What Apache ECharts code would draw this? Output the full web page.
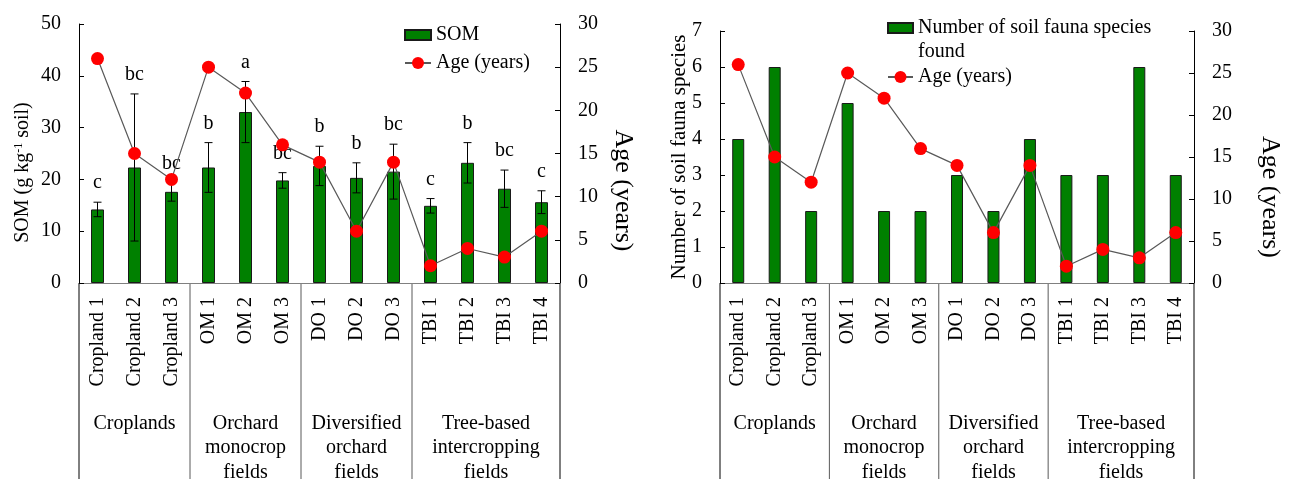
<!DOCTYPE html>
<html>
<head>
    <meta charset="utf-8">
    <title>SOM and soil fauna by field</title>
    <script src="https://cdn.jsdelivr.net/npm/echarts@6/dist/echarts.min.js"></script>
</head>
<body style="margin:0">
    <div id="main" style="width: 1292px;height:479px;"></div>
    <script>
        // field names, grouped by land use
        var categories = ['Cropland 1', 'Cropland 2', 'Cropland 3', 'OM 1', 'OM 2', 'OM 3',
            'DO 1', 'DO 2', 'DO 3', 'TBI 1', 'TBI 2', 'TBI 3', 'TBI 4'];
        var groupNames = ['Croplands', 'Orchard\nmonocrop\nfields', 'Diversified\norchard\nfields',
            'Tree-based\nintercropping\nfields'];
        var groupSizes = [3, 3, 3, 4];

        var somMean = [14.2, 22.3, 17.6, 22.3, 33.0, 19.8, 22.6, 20.3, 21.5, 14.9, 23.2, 18.2, 15.6];
        var somSd = [1.4, 14.2, 1.8, 4.8, 5.9, 1.5, 3.8, 2.9, 5.3, 1.4, 3.9, 3.6, 2.2];
        var somLetters = ['c', 'bc', 'bc', 'b', 'a', 'bc', 'b', 'b', 'bc', 'c', 'b', 'bc', 'c'];
        var ageYears = [26, 15, 12, 25, 22, 16, 14, 6, 14, 2, 4, 3, 6];
        var faunaSpecies = [4, 6, 2, 5, 2, 2, 3, 2, 4, 3, 3, 6, 3];

        var FONT = 'Liberation Serif';
        var GREEN = '#008000';

        var chart = echarts.init(document.getElementById('main'));

        function valueAxis(grid, pos, max, interval, extra) {
            var ax = {
                type: 'value', gridIndex: grid, position: pos,
                min: 0, max: max, interval: interval,
                axisLine: { show: true, lineStyle: { color: '#000', width: 1 } },
                axisTick: { show: true, inside: true, length: 5, lineStyle: { color: '#000' } },
                axisLabel: { fontFamily: FONT, fontSize: 20, color: '#000', margin: 18 },
                splitLine: { show: false },
                nameLocation: 'middle',
                nameMoveOverlap: false
            };
            return Object.assign(ax, extra || {});
        }

        function catAxis(grid) {
            return {
                type: 'category', gridIndex: grid, data: categories,
                axisLine: { lineStyle: { color: '#808080' } },
                axisTick: { show: false },
                axisLabel: { rotate: 90, fontFamily: FONT, fontSize: 20, color: '#000', margin: 14, interval: 0 }
            };
        }

        var legendText = { fontFamily: FONT, fontSize: 20, color: '#000', lineHeight: 20 };

        var option = {
            animation: false,
            grid: [
                { left: 79, right: 732, top: 24, bottom: 196, outerBoundsMode: 'none' },
                { left: 720, right: 98, top: 31, bottom: 196, outerBoundsMode: 'none' }
            ],
            xAxis: [catAxis(0), catAxis(1)],
            yAxis: [
                valueAxis(0, 'left', 50, 10, {
                    name: 'SOM (g kg{sup|-1} soil)',
                    nameGap: 46,
                    nameTextStyle: {
                        fontFamily: FONT, fontSize: 20, color: '#000', padding: [0, 38, 0, 0],
                        rich: { sup: { fontFamily: FONT, fontSize: 12, color: '#000', verticalAlign: 'top', padding: [0, 0, 8, 0] } }
                    }
                }),
                valueAxis(0, 'right', 30, 5, {
                    name: 'Age (years)', nameRotate: -90, nameGap: 50,
                    nameTextStyle: { fontFamily: FONT, fontSize: 26, color: '#000', padding: [0, 0, 0, 74] }
                }),
                valueAxis(1, 'left', 7, 1, {
                    name: 'Number of soil fauna species', nameGap: 30,
                    nameTextStyle: { fontFamily: FONT, fontSize: 21, color: '#000' }
                }),
                valueAxis(1, 'right', 30, 5, {
                    name: 'Age (years)', nameRotate: -90, nameGap: 63,
                    nameTextStyle: { fontFamily: FONT, fontSize: 26, color: '#000', padding: [0, 0, 0, 80] }
                })
            ],
            legend: [
                { data: ['SOM'], left: 404, top: 25, padding: 0, itemWidth: 26, itemHeight: 10, itemGap: 0,
                  icon: 'rect', textStyle: legendText },
                { data: ['Age (years)'], left: 404, top: 53, padding: 0, itemWidth: 26, itemHeight: 15,
                  textStyle: legendText },
                // leading blank line keeps the first text line level with the icon
                { data: ['Number of soil fauna species found'], left: 887, top: -8, padding: 0,
                  itemWidth: 25, itemHeight: 10, icon: 'rect',
                  formatter: function () { return ' \nNumber of soil fauna species\nfound'; },
                  textStyle: Object.assign({}, legendText, { lineHeight: 24 }) },
                { data: ['Age (years)'], left: 887, top: 67, padding: 0, itemWidth: 25, itemHeight: 15,
                  textStyle: legendText }
            ],
            series: [
                {
                    name: 'SOM', type: 'bar', xAxisIndex: 0, yAxisIndex: 0, data: somMean,
                    barWidth: 13, z: 2,
                    itemStyle: { color: GREEN, borderColor: '#1a1a1a', borderWidth: 1 }
                },
                {
                    name: 'SOM error', type: 'custom', xAxisIndex: 0, yAxisIndex: 0, z: 3,
                    data: somMean.map(function (m, i) { return [i, m, somSd[i]]; }),
                    renderItem: function (params, api) {
                        var x = api.value(0), m = api.value(1), sd = api.value(2);
                        var hi = api.coord([x, m + sd]);
                        var lo = api.coord([x, m - sd]);
                        var cap = 4;
                        var st = { stroke: '#000', lineWidth: 1 };
                        return {
                            type: 'group',
                            children: [
                                { type: 'line', shape: { x1: hi[0], y1: hi[1], x2: lo[0], y2: lo[1] }, style: st },
                                { type: 'line', shape: { x1: hi[0] - cap, y1: hi[1], x2: hi[0] + cap, y2: hi[1] }, style: st },
                                { type: 'line', shape: { x1: lo[0] - cap, y1: lo[1], x2: lo[0] + cap, y2: lo[1] }, style: st },
                                {
                                    type: 'text', x: hi[0], y: hi[1] - 19,
                                    style: {
                                        text: somLetters[params.dataIndex], fontFamily: FONT, fontSize: 20,
                                        fill: '#000', align: 'center', verticalAlign: 'middle'
                                    }
                                }
                            ]
                        };
                    }
                },
                {
                    name: 'Age (years)', type: 'line', xAxisIndex: 0, yAxisIndex: 1, data: ageYears, z: 4,
                    symbol: 'circle', symbolSize: 13,
                    itemStyle: { color: '#ff0000' },
                    lineStyle: { color: '#595959', width: 1.2 }
                },
                {
                    name: 'Number of soil fauna species found', type: 'bar', xAxisIndex: 1, yAxisIndex: 2,
                    data: faunaSpecies, barWidth: 12, z: 2,
                    itemStyle: { color: GREEN, borderColor: '#1a1a1a', borderWidth: 1 }
                },
                {
                    name: 'Age (years)', type: 'line', xAxisIndex: 1, yAxisIndex: 3, data: ageYears, z: 4,
                    symbol: 'circle', symbolSize: 13,
                    itemStyle: { color: '#ff0000' },
                    lineStyle: { color: '#595959', width: 1.2 }
                }
            ]
        };

        chart.setOption(option);

        // table-like frame below each category axis: group separators and group names
        function groupFrame(xIdx, yIdx) {
            var c0 = chart.convertToPixel({ xAxisIndex: xIdx }, 0);
            var c1 = chart.convertToPixel({ xAxisIndex: xIdx }, 1);
            var bw = c1 - c0;
            var y0 = chart.convertToPixel({ yAxisIndex: yIdx }, 0);
            var els = [];
            var start = 0;
            for (var g = 0; g <= groupSizes.length; g++) {
                var bx = c0 - bw / 2 + start * bw;
                var outer = (g === 0 || g === groupSizes.length);
                els.push({
                    type: 'line', silent: true,
                    shape: { x1: bx, y1: y0, x2: bx, y2: 479 },
                    style: { stroke: outer ? '#000' : '#595959', lineWidth: 1 }
                });
                if (g < groupSizes.length) {
                    els.push({
                        type: 'text', silent: true,
                        x: bx + groupSizes[g] * bw / 2, y: 411,
                        style: {
                            text: groupNames[g], fontFamily: FONT, fontSize: 20, lineHeight: 24.5,
                            fill: '#000', align: 'center', verticalAlign: 'top'
                        }
                    });
                    start += groupSizes[g];
                }
            }
            return els;
        }

        chart.setOption({ graphic: groupFrame(0, 0).concat(groupFrame(1, 2)) });
    </script>
</body>
</html>
